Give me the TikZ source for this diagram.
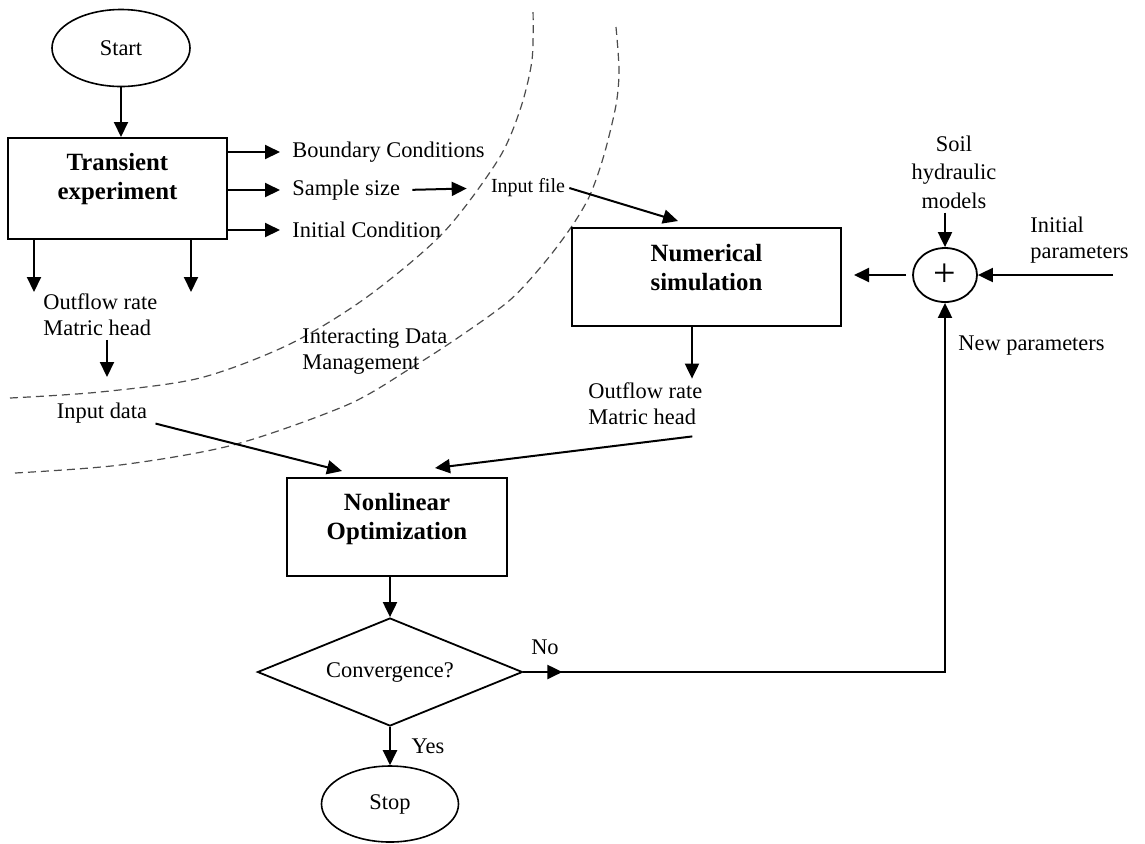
\documentclass[tikz,border=0pt]{standalone}
\usepackage{fontspec}
\setmainfont{Liberation Serif}
\usetikzlibrary{positioning, arrows.meta, shapes, calc}

\begin{document}
\begin{tikzpicture}[x=0.5pt, y=-0.5pt,
    seta/.style={-{Triangle[length=7.5pt, width=7pt]}, line width=1pt},
    txt/.style={font=\fontsize{11.2}{13}\selectfont, inner sep=2pt},
    btxt/.style={font=\fontsize{12.4}{14.5}\selectfont\bfseries, align=center},
    caixa/.style={draw, line width=1pt},
    limite/.style={gray!60!black, line width=0.6pt, dash pattern=on 4pt off 2.5pt}]
    \useasboundingbox (0,0) rectangle (1145,843);
    % Limites de gestão de dados
    \draw[limite] plot[smooth] coordinates {(10,398) (100,392) (200,378) (290,344) (367,297) (443,233) (498,160) (520,110) (532,60) (533,8)};
    \draw[limite] plot[smooth] coordinates {(15,473) (120,465) (233,445) (347,405) (411,368) (459,337) (510,300) (545,262) (572,226) (590,195) (604,155) (616,105) (619,70) (616,27)};
    % Experimento
    \node[draw, ellipse, line width=0.8pt, minimum width=69pt, minimum height=38.5pt, txt] (start) at (121,48) {Start};
    \node[caixa, minimum width=109.5pt, minimum height=50.5pt] (trans) at (117.5,188.5) {};
    \node[btxt] (transtxt) at (117.5,179) {Transient\\experiment};
    \draw[seta] (start.south) -- (start.south |- trans.north);
    \node[txt, anchor=west] (bc) at (288,152) {Boundary Conditions};
    \node[txt, anchor=west] (ss) at (288,190) {Sample size};
    \node[txt, anchor=west] (ic) at (288,230) {Initial Condition};
    \foreach \lab in {bc, ss, ic}
      \draw[seta, shorten >=4pt] (trans.east |- \lab.west) -- (\lab.west);
    \node[font=\fontsize{10}{12}\selectfont, inner sep=2pt] (infile) at (528,188) {Input file};
    \draw[seta, shorten <=4pt, shorten >=10pt] (ss.east) -- (infile.west);
    % Dados medidos
    \coordinate (oa) at (34,292);
    \coordinate (ob) at (191,292);
    \draw[seta] (oa |- trans.south) -- (oa);
    \draw[seta] (ob |- trans.south) -- (ob);
    \node[txt, align=left, anchor=west] (outL) at (39,314.5) {Outflow rate\\Matric head};
    \coordinate (ia) at (107,377);
    \draw[seta] (ia |- outL.south) -- (ia);
    \node[txt] (ind) at (102,413) {Input data};
    \node[txt, align=left, anchor=west] (idm) at (298,351) {Interacting Data\\Management};
    % Simulação numérica
    \node[caixa, minimum width=134.5pt, minimum height=49pt] (num) at (706.5,277) {};
    \node[btxt] (numtxt) at (706.5,267.5) {Numerical\\simulation};
    \draw[seta] (infile.east) -- ([xshift=-14.25pt, yshift=3pt]num.north);
    \node[draw, ellipse, line width=0.9pt, minimum width=32pt, minimum height=27pt, inner sep=0pt, font=\fontsize{20}{20}\selectfont] (circ) at (945,275) {+};
    \node[txt, align=center, font=\fontsize{11.2}{14.2}\selectfont] (soil) at (954,172) {Soil\\hydraulic\\models};
    \node[txt, align=left, anchor=west] (initp) at (1026,240.5) {Initial\\parameters};
    \node[txt, anchor=west] (newp) at (954,346) {New parameters};
    \coordinate (initin) at (1113,275);
    \draw[seta] (soil.south -| circ.north) -- (circ.north);
    \draw[seta] (initin) -- (circ.east);
    \draw[seta, shorten <=3pt, shorten >=6pt] (circ.west) -- (num.east |- circ.west);
    \node[txt, align=left, anchor=west] (outR) at (584,404) {Outflow rate\\Matric head};
    \draw[seta] ([xshift=-7.25pt]num.south) -- ([xshift=-7.25pt]num.south |- outR.north);
    % Otimização
    \node[caixa, minimum width=110pt, minimum height=49pt] (nonlin) at (397,527) {};
    \node[btxt] (nonlintxt) at (397,519.5) {Nonlinear\\Optimization};
    \draw[seta] ([xshift=2pt, yshift=2pt]ind.south east) -- ([xshift=28pt, yshift=3pt]nonlin.north west);
    \draw[seta] ([xshift=23.5pt, yshift=-3.5pt]outR.south) -- ([xshift=19pt, yshift=4.5pt]nonlin.north);
    \node[draw, diamond, aspect=2.45, line width=0.9pt, minimum width=132.5pt, minimum height=54pt, inner sep=1pt, txt] (conv) at (390,672) {Convergence?};
    \draw[seta] (nonlin.south -| conv.north) -- (conv.north);
    \node[draw, ellipse, line width=0.8pt, minimum width=68.5pt, minimum height=38pt, txt] (stop) at (390,804) {Stop};
    \draw[seta] (conv.south) -- (stop.north);
    \node[txt] (yes) at (428,746) {Yes};
    \node[txt] (no) at (545,647) {No};
    \draw[seta] (conv.east) -- ++(39,0);
    \draw[seta] (conv.east) -- (conv.east -| circ.south) -- (circ.south);
\end{tikzpicture}
\end{document}
